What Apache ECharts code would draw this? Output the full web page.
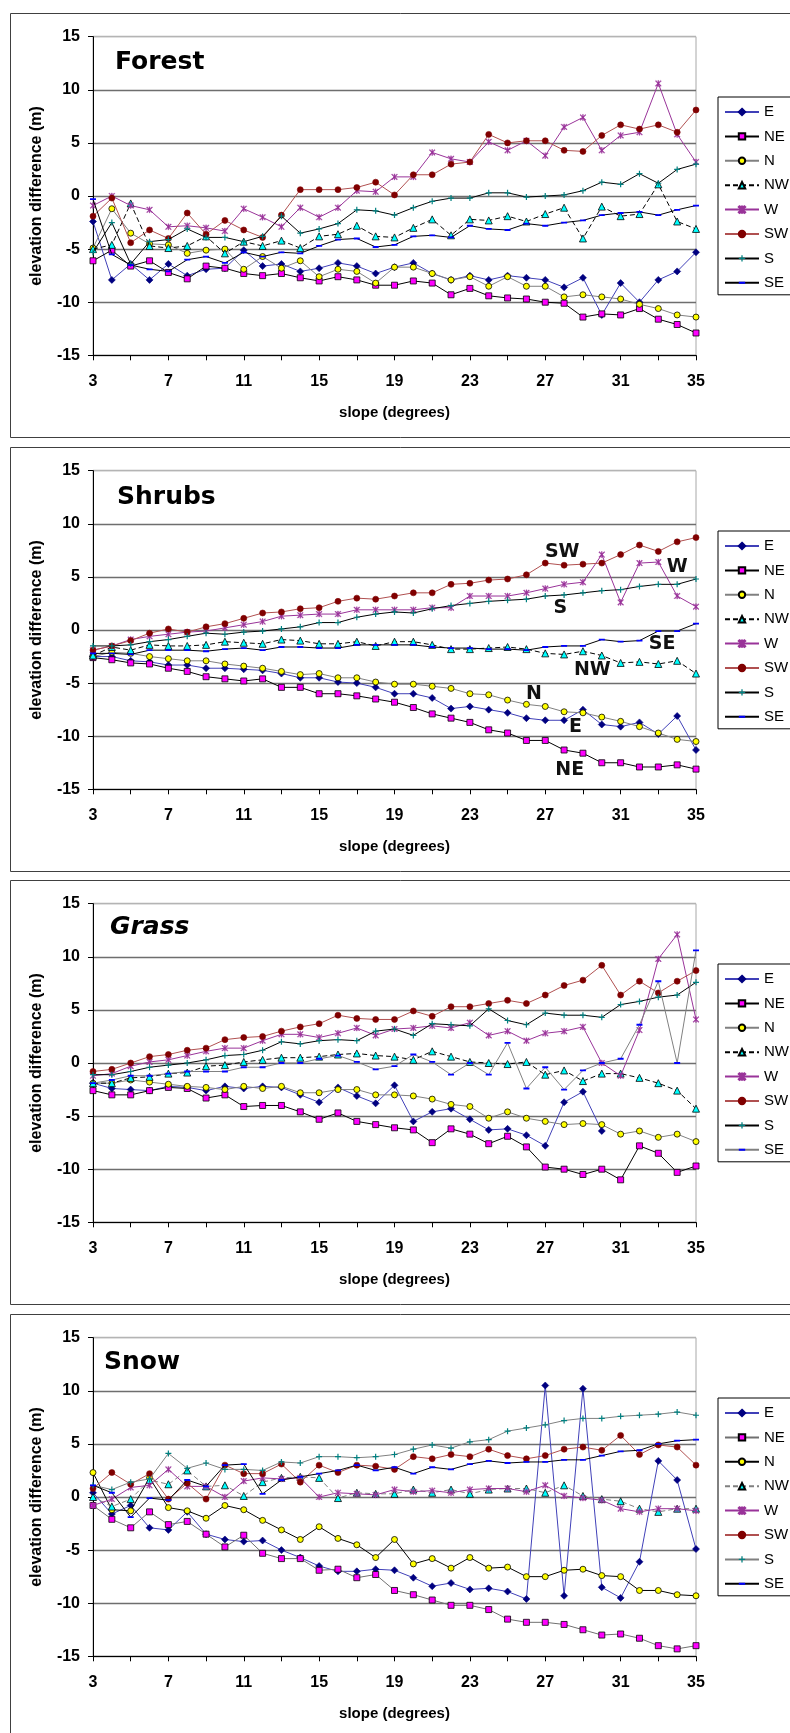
<!DOCTYPE html>
<html>
<head>
<meta charset="utf-8">
<script src="https://cdn.jsdelivr.net/npm/echarts@6/dist/echarts.min.js"></script>
<style>
html, body { margin: 0; padding: 0; background: #fff; }
#chart { width: 790px; height: 1733px; }
</style>
</head>
<body>
<div id="chart"></div>
<script>
const slopes = [3, 4, 5, 6, 7, 8, 9, 10, 11, 12, 13, 14, 15, 16, 17, 18, 19, 20, 21, 22, 23, 24, 25, 26, 27, 28, 29, 30, 31, 32, 33, 34, 35]
const directions = ['E', 'NE', 'N', 'NW', 'W', 'SW', 'S', 'SE']
const yTicks = [-15, -10, -5, 0, 5, 10, 15]

// Forest
const forestE = [-2.4, -7.9, -6.4, -7.9, -6.4, -7.5, -6.9, -6.8, -5.1, -6.6, -6.4, -7.1, -6.8, -6.3, -6.6, -7.3, -6.7, -6.3, -7.3, -7.9, -7.5, -7.9, -7.5, -7.7, -7.9, -8.6, -7.7, -11.2, -8.2, -10.0, -7.9, -7.1, -5.3]
const forestNE = [-6.1, -5.1, -6.6, -6.1, -7.2, -7.8, -6.6, -6.8, -7.3, -7.5, -7.3, -7.7, -8.0, -7.6, -7.9, -8.4, -8.4, -8.0, -8.2, -9.3, -8.7, -9.4, -9.6, -9.7, -10.0, -10.1, -11.4, -11.1, -11.2, -10.6, -11.6, -12.1, -12.9]
const forestN = [-4.9, -1.2, -3.5, -4.5, -4.6, -5.4, -5.1, -5.0, -6.9, -5.7, -6.8, -6.1, -7.6, -6.9, -7.1, -8.2, -6.7, -6.7, -7.3, -7.9, -7.6, -8.5, -7.6, -8.5, -8.5, -9.5, -9.3, -9.5, -9.7, -10.2, -10.6, -11.2, -11.4]
const forestNW = [-5.0, -4.6, -0.7, -4.7, -4.9, -4.7, -3.8, -5.4, -4.3, -4.7, -4.2, -4.9, -3.8, -3.6, -2.8, -3.8, -3.9, -3.0, -2.2, -3.7, -2.2, -2.3, -1.9, -2.4, -1.7, -1.1, -4.0, -1.0, -1.9, -1.7, 1.1, -2.4, -3.1]
const forestW = [-0.9, 0.0, -0.9, -1.3, -2.9, -2.8, -3.0, -3.3, -1.2, -2.0, -2.9, -1.1, -2.0, -1.1, 0.5, 0.4, 1.8, 1.8, 4.1, 3.5, 3.2, 5.1, 4.3, 5.2, 3.8, 6.5, 7.4, 4.3, 5.7, 6.0, 10.6, 5.8, 3.2]
const forestSW = [-1.9, -0.2, -4.4, -3.2, -4.0, -1.6, -3.6, -2.3, -3.2, -3.9, -1.8, 0.6, 0.6, 0.6, 0.8, 1.3, 0.1, 2.0, 2.0, 3.0, 3.2, 5.8, 5.0, 5.2, 5.2, 4.3, 4.2, 5.7, 6.7, 6.3, 6.7, 6.0, 8.1]
const forestS = [-5.3, -2.5, -6.4, -4.3, -4.1, -3.1, -3.9, -3.9, -4.3, -3.8, -1.9, -3.5, -3.1, -2.6, -1.3, -1.4, -1.8, -1.1, -0.5, -0.2, -0.2, 0.3, 0.3, -0.1, 0.0, 0.1, 0.5, 1.3, 1.1, 2.1, 1.2, 2.5, 3.0]
const forestSE = [-0.3, -5.5, -6.5, -6.9, -7.1, -6.0, -5.7, -6.3, -5.3, -5.7, -5.3, -5.4, -4.7, -4.1, -4.0, -4.8, -4.6, -3.8, -3.7, -3.9, -2.8, -3.1, -3.2, -2.6, -2.8, -2.5, -2.3, -1.8, -1.6, -1.5, -1.8, -1.3, -0.9]

// Shrubs
const shrubsE = [-2.5, -2.5, -2.9, -3.0, -3.3, -3.3, -3.6, -3.6, -3.7, -3.8, -4.1, -4.5, -4.5, -4.9, -5.0, -5.4, -6.0, -6.0, -6.4, -7.4, -7.2, -7.5, -7.8, -8.3, -8.5, -8.5, -7.5, -8.9, -9.1, -8.7, -9.8, -8.1, -11.3]
const shrubsNE = [-2.6, -2.8, -3.1, -3.2, -3.6, -3.9, -4.4, -4.6, -4.8, -4.6, -5.4, -5.4, -6.0, -6.0, -6.2, -6.5, -6.8, -7.3, -7.9, -8.3, -8.7, -9.4, -9.7, -10.4, -10.4, -11.3, -11.6, -12.5, -12.5, -12.9, -12.9, -12.7, -13.1]
const shrubsN = [-2.5, -2.1, -2.2, -2.5, -2.7, -2.9, -2.9, -3.2, -3.4, -3.6, -3.9, -4.2, -4.1, -4.5, -4.5, -4.9, -5.1, -5.1, -5.3, -5.5, -6.0, -6.1, -6.6, -7.0, -7.2, -7.7, -7.8, -8.2, -8.6, -9.1, -9.7, -10.3, -10.5]
const shrubsNW = [-2.4, -1.6, -1.9, -1.4, -1.5, -1.5, -1.4, -1.1, -1.2, -1.3, -0.9, -1.0, -1.3, -1.3, -1.1, -1.5, -1.1, -1.1, -1.4, -1.8, -1.8, -1.7, -1.6, -1.8, -2.2, -2.3, -2.0, -2.4, -3.1, -3.0, -3.2, -2.9, -4.1]
const shrubsW = [-1.9, -1.5, -0.9, -0.6, -0.4, -0.2, -0.1, 0.2, 0.5, 0.8, 1.3, 1.4, 1.5, 1.5, 1.9, 1.9, 1.9, 1.9, 2.1, 2.1, 3.2, 3.2, 3.2, 3.5, 3.9, 4.3, 4.5, 7.1, 2.6, 6.3, 6.4, 3.2, 2.2]
const shrubsSW = [-1.9, -1.5, -1.0, -0.3, 0.1, -0.2, 0.3, 0.6, 1.1, 1.6, 1.7, 2.0, 2.1, 2.7, 3.0, 2.9, 3.2, 3.5, 3.5, 4.3, 4.4, 4.7, 4.8, 5.2, 6.3, 6.1, 6.2, 6.3, 7.1, 8.0, 7.4, 8.3, 8.7]
const shrubsS = [-1.5, -1.5, -1.4, -1.1, -0.9, -0.6, -0.3, -0.4, -0.2, -0.1, 0.1, 0.3, 0.7, 0.7, 1.2, 1.5, 1.7, 1.6, 2.0, 2.3, 2.5, 2.7, 2.8, 2.9, 3.2, 3.3, 3.5, 3.7, 3.8, 4.1, 4.3, 4.3, 4.8]
const shrubsSE = [-2.2, -2.2, -2.3, -1.9, -1.9, -1.9, -2.0, -1.8, -1.7, -1.9, -1.6, -1.6, -1.7, -1.7, -1.4, -1.4, -1.4, -1.4, -1.6, -1.7, -1.7, -1.8, -1.8, -1.9, -1.6, -1.5, -1.5, -0.9, -1.1, -1.0, -0.1, -0.1, 0.6]

// Grass
const grassE = [-1.9, -2.4, -2.5, -2.6, -2.2, -2.3, -2.6, -2.2, -2.4, -2.2, -2.3, -3.0, -3.7, -2.3, -3.1, -3.8, -2.1, -5.5, -4.6, -4.3, -5.3, -6.3, -6.2, -6.8, -7.8, -3.7, -2.7, -6.4, null, null, null, null, null]
const grassNE = [-2.6, -3.0, -3.0, -2.6, -2.3, -2.4, -3.3, -3.0, -4.1, -4.0, -4.0, -4.6, -5.3, -4.7, -5.5, -5.8, -6.1, -6.3, -7.5, -6.2, -6.7, -7.6, -6.9, -7.9, -9.8, -10.0, -10.5, -10.0, -11.0, -7.8, -8.5, -10.3, -9.7]
const grassN = [-1.9, -1.9, -1.6, -1.8, -2.0, -2.2, -2.3, -2.5, -2.2, -2.4, -2.2, -2.8, -2.8, -2.5, -2.5, -3.0, -3.0, -3.1, -3.4, -3.9, -4.1, -5.2, -4.6, -5.2, -5.5, -5.8, -5.7, -5.8, -6.7, -6.4, -7.0, -6.7, -7.4]
const grassNW = [-1.9, -1.9, -1.4, -1.3, -1.0, -0.9, -0.3, -0.2, 0.1, 0.3, 0.5, 0.5, 0.6, 0.8, 0.9, 0.7, 0.6, 0.3, 1.1, 0.6, 0.1, 0.0, -0.1, 0.1, -1.1, -0.7, -1.7, -1.0, -1.0, -1.4, -1.9, -2.6, -4.3]
const grassW = [-1.2, -1.0, -0.3, 0.1, 0.3, 0.7, 1.1, 1.4, 1.4, 2.1, 2.7, 2.7, 2.4, 2.8, 3.3, 2.6, 3.2, 3.3, 3.5, 3.3, 3.8, 2.6, 3.0, 2.1, 2.8, 3.0, 3.4, 0.0, -1.2, 3.1, 9.8, 12.1, 4.1]
const grassSW = [-0.8, -0.6, 0.0, 0.6, 0.8, 1.2, 1.4, 2.2, 2.4, 2.5, 3.0, 3.4, 3.7, 4.5, 4.2, 4.1, 4.1, 4.9, 4.4, 5.3, 5.3, 5.6, 5.9, 5.6, 6.4, 7.3, 7.8, 9.2, 6.4, 7.7, 6.6, 7.7, 8.7]
const grassS = [-1.1, -1.1, -0.8, -0.4, -0.2, 0.0, 0.3, 0.7, 0.8, 1.2, 2.0, 1.8, 2.1, 2.2, 2.1, 3.0, 3.2, 2.6, 3.7, 3.6, 3.5, 5.1, 4.0, 3.6, 4.7, 4.5, 4.5, 4.3, 5.5, 5.8, 6.2, 6.4, 7.6]
const grassSE = [-1.9, -1.6, -1.2, -1.2, -1.0, -0.8, -0.8, -0.8, -0.4, -0.4, 0.0, 0.0, 0.4, 0.7, 0.1, -0.6, -0.3, 0.8, 0.1, -1.1, 0.0, -1.1, 1.9, -2.4, -0.4, -2.5, -0.7, 0.0, 0.4, 3.6, 7.7, 0.0, 10.6]

// Snow
const snowE = [0.4, -1.6, -0.8, -2.9, -3.1, -1.4, -3.5, -4.0, -4.2, -4.1, -5.0, -5.7, -6.5, -7.0, -7.0, -6.8, -6.9, -7.6, -8.4, -8.1, -8.7, -8.6, -8.9, -9.6, 10.5, -9.3, 10.2, -8.5, -9.5, -6.1, 3.4, 1.6, -4.9]
const snowNE = [-0.8, -2.1, -2.9, -1.4, -2.6, -2.3, -3.5, -4.7, -3.6, -5.3, -5.8, -5.8, -6.9, -6.8, -7.6, -7.3, -8.8, -9.2, -9.7, -10.2, -10.2, -10.6, -11.5, -11.8, -11.8, -12.0, -12.5, -13.0, -12.9, -13.3, -14.0, -14.3, -14.0]
const snowN = [2.3, -1.2, -1.3, 1.8, -1.0, -1.3, -2.0, -0.8, -1.2, -2.2, -3.1, -4.0, -2.8, -3.9, -4.5, -5.7, -4.0, -6.3, -5.8, -6.7, -5.7, -6.7, -6.6, -7.5, -7.5, -6.9, -6.8, -7.4, -7.5, -8.8, -8.8, -9.2, -9.3]
const snowNW = [0.0, -0.9, -0.2, 1.6, 1.2, 2.5, 1.0, 1.1, 0.1, 1.4, 1.8, 1.9, 1.8, -0.1, 0.4, 0.3, 0.3, 0.7, 0.4, 0.7, 0.3, 0.7, 0.8, 0.8, 0.4, 1.1, 0.1, -0.2, -0.4, -1.1, -1.4, -1.1, -1.1]
const snowW = [-0.8, -0.2, 0.9, 1.1, 2.6, 1.0, 1.0, 0.0, 1.5, 1.8, 1.7, 1.8, 0.0, 0.4, 0.3, 0.2, 0.7, 0.5, 0.6, 0.4, 0.7, 0.8, 0.8, 0.5, 1.1, 0.1, -0.1, -0.3, -1.1, -1.4, -1.1, -1.1, -1.3]
const snowSW = [0.8, 2.3, 1.2, 2.2, -0.2, 1.3, -0.2, 3.0, 2.2, 2.2, 3.1, 1.4, 3.0, 2.3, 3.0, 2.9, 2.6, 3.8, 3.6, 4.0, 3.8, 4.5, 3.9, 3.6, 3.9, 4.5, 4.7, 4.4, 5.8, 4.0, 4.9, 4.7, 3.0]
const snowS = [1.1, 0.7, 1.4, 1.7, 4.1, 2.7, 3.2, 2.6, 2.6, 2.5, 3.3, 3.2, 3.8, 3.8, 3.7, 3.8, 4.0, 4.5, 4.9, 4.6, 5.2, 5.4, 6.2, 6.5, 6.8, 7.2, 7.4, 7.4, 7.6, 7.7, 7.8, 8.0, 7.7]
const snowSE = [1.1, 0.4, -1.9, -0.1, -0.3, 1.6, 1.0, 3.0, 3.1, 0.3, 1.6, 1.9, 2.2, 2.5, 3.0, 2.5, 2.8, 2.2, 2.8, 2.6, 3.1, 3.4, 3.2, 3.3, 3.3, 3.5, 3.5, 3.9, 4.3, 4.4, 5.0, 5.3, 5.4]

// in-plot labels of the Shrubs panel: [text, slope, elevation]
const shrubsLabels = [['SW', 27.9, 7.3], ['W', 34.0, 5.9], ['S', 27.8, 2.1], ['SE', 33.2, -1.3],
    ['NW', 29.5, -3.8], ['N', 26.4, -6.0], ['E', 28.6, -9.1], ['NE', 28.3, -13.2]]

const panels = [
    { title: 'Forest', italic: false, series: [forestE, forestNE, forestN, forestNW, forestW, forestSW, forestS, forestSE], lines: {} },
    { title: 'Shrubs', italic: false, series: [shrubsE, shrubsNE, shrubsN, shrubsNW, shrubsW, shrubsSW, shrubsS, shrubsSE], lines: {}, labels: shrubsLabels },
    { title: 'Grass', italic: true, series: [grassE, grassNE, grassN, grassNW, grassW, grassSW, grassS, grassSE], lines: { SE: '#808080' } },
    { title: 'Snow', italic: false, series: [snowE, snowNE, snowN, snowNW, snowW, snowSW, snowS, snowSE], lines: { NE: '#707070', N: '#000000', NW: '#808080', S: '#808080' } }
]

const panelTop = [0, 434, 867, 1301]
const titlePos = [[115, 65], [117, 66], [110, 63], [104, 64]]

// marker shapes; the dash keeps a square bounding box so it stays thin in the legend too
const asterisk = 'path://M0,1L1,0L10,9L9,10ZM9,0L10,1L1,10L0,9ZM4.3,0H5.7V10H4.3Z'
const plus = 'path://M4,0H6V10H4ZM0,4H10V6H0Z'
const dash = 'path://M0,0L0.01,0L0,0.01ZM0,3.5H10V6.5H0ZM10,10L9.99,10L10,9.99Z'

const styles = {
    E: { symbol: 'diamond', size: 7, fill: '#000080', border: '#000080', bw: 0.6, line: '#4040b8' },
    NE: { symbol: 'rect', size: 6, fill: '#ff00ff', border: '#000000', bw: 0.8, line: '#000000' },
    N: { symbol: 'circle', size: 6, fill: '#ffff00', border: '#000000', bw: 0.8, line: '#808080' },
    NW: { symbol: 'triangle', size: 7, fill: '#00ffff', border: '#000000', bw: 0.8, line: '#000000', dashed: true },
    W: { symbol: asterisk, size: 6, fill: '#993399', border: '#993399', bw: 0.4, line: '#993399' },
    SW: { symbol: 'circle', size: 6, fill: '#800000', border: '#800000', bw: 0.6, line: '#b05050' },
    S: { symbol: plus, size: 6, fill: '#008080', border: '#008080', bw: 0, line: '#000000' },
    SE: { symbol: dash, size: 6, fill: '#0000ff', border: '#0000ff', bw: 0, line: '#000000' }
}

const font = 'Liberation Sans, Arial, sans-serif'
const comic = '"Comic Sans MS", "DejaVu Sans", sans-serif'
const gridGray = '#6e6e6e'

const chart = echarts.init(document.getElementById('chart'), null, { renderer: 'canvas' })

const grids = [], xAxes = [], yAxes = [], legends = [], series = [], graphics = []

panels.forEach((p, pi) => {
    const top = panelTop[pi]
    grids.push({ left: 93, right: 94, top: top + 36.7, height: 318.6, show: true, borderColor: '#a8a8a8', borderWidth: 1 })
    xAxes.push({
        gridIndex: pi, type: 'value', min: 3, max: 35, interval: 2,
        name: 'slope (degrees)', nameLocation: 'middle', nameGap: 50,
        nameTextStyle: { fontFamily: font, fontWeight: 'bold', fontSize: 15, color: '#000' },
        axisLine: { onZero: false, lineStyle: { color: '#000', width: 1 } },
        axisTick: { length: 5, lineStyle: { color: '#000' } },
        axisLabel: {
            margin: 18, fontFamily: font, fontWeight: 'bold', fontSize: 16, color: '#000',
            showMinLabel: true, showMaxLabel: true,
            formatter: v => ((v - 3) % 4 === 0 ? String(v) : '')
        },
        splitLine: { show: false }
    })
    yAxes.push({
        gridIndex: pi, type: 'value', min: yTicks[0], max: yTicks[yTicks.length - 1], interval: 5,
        name: 'elevation difference (m)', nameLocation: 'middle', nameGap: 48,
        nameTextStyle: { fontFamily: font, fontWeight: 'bold', fontSize: 16, color: '#000' },
        axisLine: { show: true, onZero: false, lineStyle: { color: '#000', width: 1 } },
        axisTick: { show: true, length: 5, lineStyle: { color: '#000' } },
        axisLabel: { margin: 13, fontFamily: font, fontWeight: 'bold', fontSize: 16, color: '#000' },
        splitLine: {
            show: true,
            lineStyle: { color: [gridGray, gridGray, gridGray, gridGray, gridGray, gridGray, '#b4b4b4'], width: 1.3 }
        }
    })
    const names = directions.map(d => d + '|' + pi)
    legends.push({
        left: 718, top: top + 97, orient: 'vertical',
        data: names, selectedMode: false,
        backgroundColor: '#fff', borderColor: '#000', borderWidth: 1,
        padding: [7, 40, 4, 6], itemWidth: 34, itemHeight: 8, itemGap: 8.4,
        textStyle: { fontFamily: font, fontSize: 15, lineHeight: 16, color: '#000' },
        formatter: n => n.split('|')[0]
    })
    directions.forEach((d, di) => {
        const st = styles[d]
        const s = {
            name: names[di], type: 'line', xAxisIndex: pi, yAxisIndex: pi,
            data: slopes.map((x, i) => [x, p.series[di][i]]),
            symbol: st.symbol, symbolSize: st.size, showAllSymbol: true,
            itemStyle: { color: st.fill, borderColor: st.border, borderWidth: st.bw },
            lineStyle: { color: p.lines[d] || st.line, width: 1, type: st.dashed ? [5, 3] : 'solid' },
            emphasis: { disabled: true }, animation: false, z: 2 + di
        }
        if (p.labels && di === 0) {
            s.markPoint = {
                symbol: 'circle', symbolSize: 0, animation: false,
                label: { show: true, position: 'inside', fontFamily: comic, fontWeight: 'bold', fontSize: 19, color: '#111' },
                data: p.labels.map(l => ({ coord: [l[1], l[2]], value: l[0], label: { formatter: l[0] } }))
            }
        }
        series.push(s)
    })
    graphics.push({
        type: 'rect', silent: true, z: -10,
        shape: { x: 10.5, y: top + 13.5, width: 790, height: 424 },
        style: { fill: null, stroke: '#404040', lineWidth: 1 }
    })
    graphics.push({
        type: 'text', silent: true, left: titlePos[pi][0], top: top + titlePos[pi][1] - 15, z: 50,
        style: {
            text: p.title, fill: '#000', fontFamily: comic, fontWeight: 'bold', fontSize: 25,
            fontStyle: p.italic ? 'italic' : 'normal'
        }
    })
})

chart.setOption({
    animation: false,
    grid: grids,
    xAxis: xAxes,
    yAxis: yAxes,
    legend: legends,
    series: series,
    graphic: graphics
})
</script>
</body>
</html>
